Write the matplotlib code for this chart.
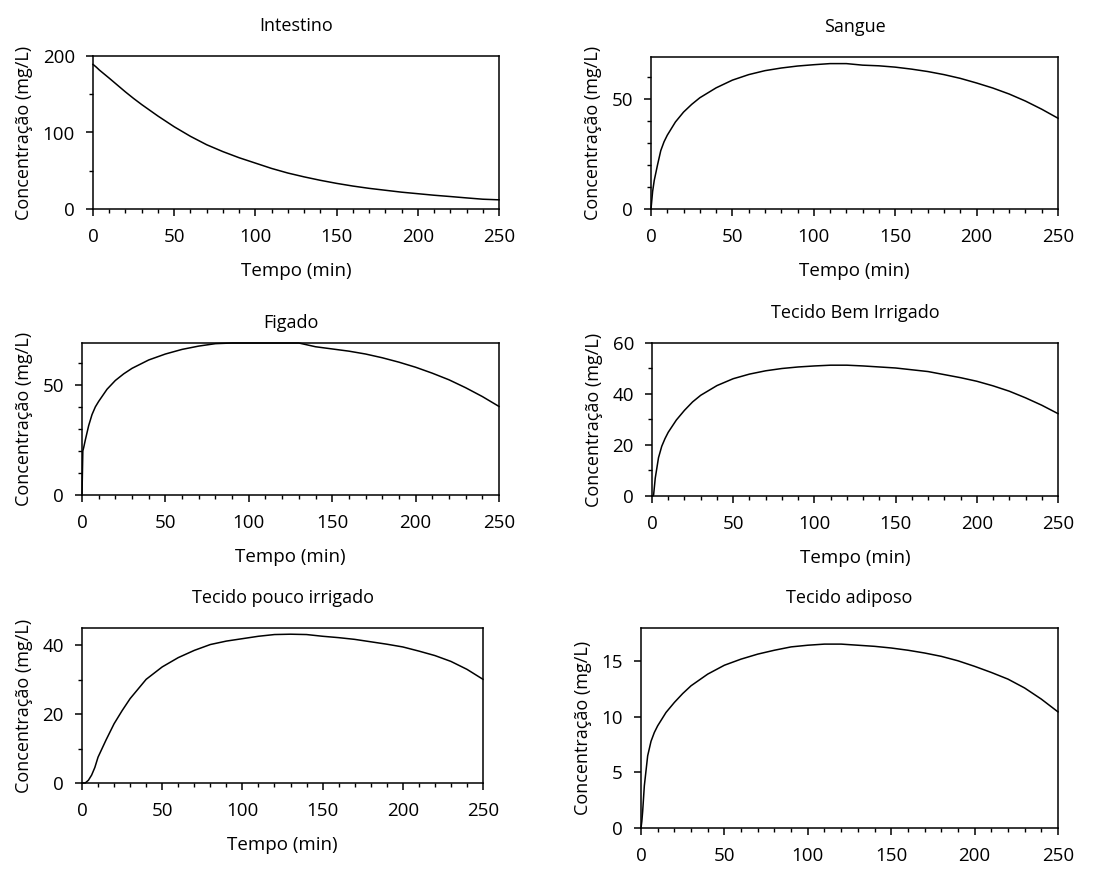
import matplotlib
matplotlib.use("Agg")
import matplotlib.pyplot as plt
from matplotlib.ticker import MultipleLocator

plt.rcParams['font.family'] = ['Open Sans', 'DejaVu Sans']

# tempo (min), shared by every compartment
tempo = [0, 0.5, 1, 2, 4, 6, 8, 10, 15, 20, 25, 30, 40, 50, 60, 70, 80, 90,
         100, 110, 120, 130, 140, 150, 160, 170, 180, 190, 200, 210, 220,
         230, 240, 250]

intestino = [189, 188.2, 187.3, 185.5, 181.5, 178, 174.5, 171, 162, 153,
             144.5, 136.5, 121.5, 107.5, 95, 84, 75, 67, 60, 53, 47, 42,
             37.5, 33.5, 30, 27, 24.5, 22, 20, 18, 16.3, 14.5, 12.8, 12]
sangue = [0, 4, 8, 13, 20, 26.5, 30.5, 33.5, 39.5, 44, 47.5, 50.5, 55, 58.5,
          61, 62.8, 64, 64.9, 65.5, 66, 66, 65.3, 65, 64.4, 63.5, 62.4, 61,
          59.3, 57.2, 54.9, 52.2, 49, 45.3, 41.2]
figado = [0, 20, 21.5, 25, 31.5, 36.5, 40, 42.5, 48, 52, 55, 57.5, 61.3, 64,
          66.1, 67.6, 68.7, 69, 69, 69, 69, 69, 67.3, 66.3, 65.3, 64, 62.3,
          60.3, 58, 55.3, 52.3, 48.7, 44.7, 40.2]
bem_irrigado = [0, 0, 0.5, 7, 15, 19.5, 22.5, 25, 29.8, 33.6, 36.9, 39.5,
                43.3, 46, 47.8, 49.1, 50, 50.6, 51, 51.3, 51.3, 51, 50.6,
                50.2, 49.5, 48.8, 47.6, 46.4, 45, 43.2, 41.1, 38.5, 35.6, 32.3]
pouco_irrigado = [0, 0, 0, 0, 0.8, 2.3, 4.5, 7.5, 12.5, 17.2, 21, 24.5, 30.1,
                  33.7, 36.4, 38.5, 40.2, 41.2, 41.9, 42.6, 43.1, 43.2, 43.1,
                  42.6, 42.2, 41.7, 41, 40.3, 39.5, 38.3, 37, 35.3, 33, 30.1]
adiposo = [0, 0.6, 1.5, 3.8, 6.5, 7.8, 8.6, 9.2, 10.4, 11.3, 12.1, 12.8, 13.85,
           14.65, 15.2, 15.65, 16, 16.3, 16.45, 16.55, 16.55, 16.45, 16.35,
           16.2, 16, 15.75, 15.45, 15.05, 14.55, 14, 13.4, 12.6, 11.6, 10.45]

titulos = ["Intestino", "Sangue", "Figado", "Tecido Bem Irrigado",
           "Tecido pouco irrigado", "Tecido adiposo"]
series = [intestino, sangue, figado, bem_irrigado, pouco_irrigado, adiposo]
y_max = [200, 69, 69, 60, 45, 18]
y_major = [100, 50, 50, 20, 20, 5]
y_minor = [50, 10, 10, 10, 10, None]

W, H = 1094, 871
# axes boxes in pixels: left, top, right, bottom
caixas = [(93, 56, 499, 209), (651, 57, 1058, 209),
          (82, 343, 499, 495), (652, 343, 1058, 496),
          (82, 628, 483, 783), (641, 628, 1058, 828)]

fig = plt.figure(figsize=(W / 100, H / 100), dpi=100)

for i, (l, t, r, b) in enumerate(caixas):
    ax = fig.add_axes([l / W, (H - b) / H, (r - l) / W, (b - t) / H])
    ax.plot(tempo, series[i], color="black", lw=1.1, clip_on=False)
    ax.set_xlim(0, 250)
    ax.set_ylim(0, y_max[i])
    ax.xaxis.set_major_locator(MultipleLocator(50))
    ax.xaxis.set_minor_locator(MultipleLocator(10))
    ax.yaxis.set_major_locator(MultipleLocator(y_major[i]))
    if y_minor[i]:
        ax.yaxis.set_minor_locator(MultipleLocator(y_minor[i]))
    ax.tick_params(which="major", direction="out", length=5, width=1.1,
                   labelsize=13.5, pad=9, color="black")
    ax.tick_params(which="minor", direction="out", length=3, width=1.0)
    ax.tick_params(axis="y", pad=8)
    for s in ax.spines.values():
        s.set_linewidth(1.1)
    ax.set_title(titulos[i], fontsize=13, pad=18 if i != 2 else 11)
    ax.set_ylabel("Concentração (mg/L)", fontsize=13, labelpad=7)
    if i != 5:
        ax.set_xlabel("Tempo (min)", fontsize=13.5, labelpad=11)

fig.savefig("out.png", dpi=100)
